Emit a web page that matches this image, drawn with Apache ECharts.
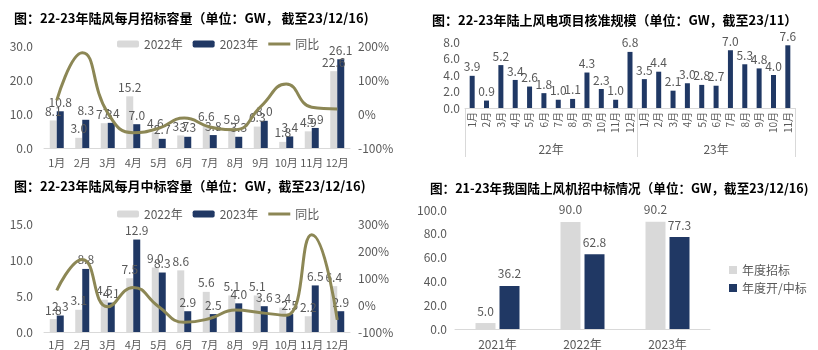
<!DOCTYPE html>
<html><head><meta charset="utf-8">
<script src="https://cdn.jsdelivr.net/npm/echarts@6/dist/echarts.min.js"></script>
<style>html,body{margin:0;padding:0;background:#fff}#c{width:818px;height:350px}</style>
</head><body><div id="c"></div>
<script>
// Panel 1: monthly tender capacity
var months = ['1月','2月','3月','4月','5月','6月','7月','8月','9月','10月','11月','12月'];
var tender2022 = [8.1,3.0,7.3,15.2,4.6,3.7,6.6,5.9,6.3,1.8,4.9,22.6];
var tender2023 = [10.8,8.3,7.4,7.0,2.7,3.3,3.8,3.3,8.0,3.4,5.9,26.1];
var tenderYoY = [40,180,3,-55,-42,-12,-38,-46,22,88,20,15];
// Panel 2: approvals
var approvalMonths = ['1月','2月','3月','4月','5月','6月','7月','8月','9月','10月','11月','12月','1月','2月','3月','4月','5月','6月','7月','8月','9月','10月','11月'];
var approvalGroups = ['22年','23年'];
var approvalGroupCounts = [12,11];
var approvalValues = [3.9,0.9,5.2,3.4,2.6,1.8,1.0,1.1,4.3,2.3,1.0,6.8,3.5,4.4,2.1,3.0,2.8,2.7,7.0,5.3,4.8,4.0,7.6];
// Panel 3: monthly winning-bid capacity
var win2022 = [1.8,3.1,4.5,7.5,9.0,8.6,5.6,5.1,5.1,3.4,2.2,6.4];
var win2023 = [2.3,8.8,4.1,12.9,8.3,2.9,2.5,4.0,3.6,2.5,6.5,2.9];
var winYoY = [55,170,-6,66,-6,-64,-50,-18,-28,-38,262,-55];
// Panel 4: annual
var years = ['2021年','2022年','2023年'];
var annualTender = [5.0,90.0,90.2];
var annualWin = [36.2,62.8,77.3];

var GRAY = '#d9d9d9', NAVY = '#203864', OLIVE = '#8c8755', TXT = '#595959';
var FF = '"Noto Sans CJK SC", "Noto Sans", sans-serif';

// group labels / boundaries for panel 2's two-level axis
var groupLabels = [];
var groupLabelIdx = {};
var groupBoundaries = {};
(function(){
  var start = 0;
  for (var g = 0; g < approvalGroups.length; g++) {
    var c = approvalGroupCounts[g];
    groupBoundaries[start] = true;
    groupLabelIdx[start + Math.floor(c / 2)] = {name: approvalGroups[g], even: c % 2 === 0};
    start += c;
  }
  for (var i = 0; i < approvalMonths.length; i++) groupLabels.push(String(i));
})();

var lbl = {show: true, position: 'top', distance: 3, color: TXT, fontSize: 12, fontFamily: FF, formatter: function(p){return p.value.toFixed(1);}};
var axLbl = {color: TXT, fontSize: 12, fontFamily: FF};
var lineIcon = 'path://M0 0H22V3H0Z';
var legText = {color: TXT, fontSize: 12, fontFamily: FF};
var titleStyle = {fontSize: 13, fontWeight: 'bold', color: '#000', fontFamily: FF};

var chart = echarts.init(document.getElementById('c'));
chart.setOption({
  animation: false,
  textStyle: {fontFamily: FF},
  title: [
    {text: '图：22-23年陆风每月招标容量（单位：GW， 截至23/12/16)', left: 9, top: 7, textStyle: titleStyle},
    {text: '图：22-23年陆上风电项目核准规模（单位：GW，截至23/11）', left: 427, top: 9, textStyle: titleStyle},
    {text: '图：22-23年陆风每月中标容量（单位：GW，截至23/12/16)', left: 9, top: 175, textStyle: titleStyle},
    {text: '图：21-23年我国陆上风机招中标情况（单位：GW，截至23/12/16)', left: 425, top: 177, textStyle: Object.assign({}, titleStyle, {fontSize: 12.6})}
  ],
  legend: [
    {left: 112, top: 33, itemWidth: 22, itemHeight: 7, itemGap: 10, textStyle: legText, data: ['2022年','2023年',{name: '同比', icon: lineIcon}]},
    {left: 112, top: 203, itemWidth: 22, itemHeight: 7, itemGap: 10, textStyle: legText, data: ['2022年','2023年',{name: '同比', icon: lineIcon}]},
    {left: 724, top: 259, orient: 'vertical', icon: 'rect', itemWidth: 8, itemHeight: 8, itemGap: 6, textStyle: legText, data: ['年度招标','年度开/中标']}
  ],
  grid: [
    {left: 44, top: 46, width: 306, height: 102},
    {left: 465, top: 42, width: 330, height: 66},
    {left: 44, top: 224.5, width: 306, height: 108.5},
    {left: 455, top: 210, width: 255, height: 120}
  ],
  xAxis: [
    {type: 'category', gridIndex: 0, data: months, axisLine: {lineStyle: {color: GRAY}}, axisTick: {show: false}, axisLabel: Object.assign({margin: 9, interval: 0}, axLbl, {fontSize: 11})},
    {type: 'category', gridIndex: 1, data: approvalMonths, axisLine: {lineStyle: {color: GRAY}},
      axisTick: {show: true, length: 49, interval: function(i){return !!groupBoundaries[i];}, lineStyle: {color: GRAY}},
      axisLabel: {rotate: 90, margin: 4, color: TXT, fontSize: 10, fontFamily: FF, interval: 0}},
    {type: 'category', gridIndex: 1, data: groupLabels, position: 'bottom', axisLine: {show: false}, axisTick: {show: false},
      axisLabel: {margin: 35, color: TXT, fontSize: 12, fontFamily: FF,
        interval: function(i){return !!groupLabelIdx[i];},
        formatter: function(v, i){var g = groupLabelIdx[i]; if(!g) return ''; return g.even ? '{s|' + g.name + '}' : g.name;},
        rich: {s: {padding: [0, 14.4, 0, 0], color: TXT, fontSize: 12, fontFamily: FF}}}},
    {type: 'category', gridIndex: 2, data: months, axisLine: {lineStyle: {color: GRAY}}, axisTick: {show: false}, axisLabel: Object.assign({margin: 7, interval: 0}, axLbl, {fontSize: 11})},
    {type: 'category', gridIndex: 3, data: years, axisLine: {lineStyle: {color: GRAY}}, axisTick: {show: false}, axisLabel: Object.assign({margin: 9}, axLbl)}
  ],
  yAxis: [
    {type: 'value', gridIndex: 0, min: 0, max: 30, interval: 10, splitLine: {show: false}, axisLine: {show: false}, axisLabel: Object.assign({margin: 11, formatter: function(v){return v.toFixed(1);}}, axLbl)},
    {type: 'value', gridIndex: 0, position: 'right', min: -100, max: 200, interval: 100, splitLine: {show: false}, axisLine: {show: false}, axisLabel: Object.assign({margin: 8, formatter: '{value}%'}, axLbl)},
    {type: 'value', gridIndex: 1, min: 0, max: 8, interval: 2, splitLine: {show: false}, axisLine: {show: false}, axisLabel: Object.assign({margin: 5, formatter: function(v){return v.toFixed(1);}}, axLbl)},
    {type: 'value', gridIndex: 2, min: 0, max: 15, interval: 5, splitLine: {show: false}, axisLine: {show: false}, axisLabel: Object.assign({margin: 11, formatter: function(v){return v.toFixed(1);}}, axLbl)},
    {type: 'value', gridIndex: 2, position: 'right', min: -100, max: 300, interval: 100, splitLine: {show: false}, axisLine: {show: false}, axisLabel: Object.assign({margin: 8, formatter: '{value}%'}, axLbl)},
    {type: 'value', gridIndex: 3, min: 0, max: 100, interval: 20, splitLine: {show: false}, axisLine: {show: false}, axisLabel: Object.assign({margin: 8, formatter: function(v){return v.toFixed(1);}}, axLbl)}
  ],
  series: [
    {name: '2022年', type: 'bar', xAxisIndex: 0, yAxisIndex: 0, data: tender2022, barWidth: 7, barGap: '0%', itemStyle: {color: GRAY}, label: lbl},
    {name: '2023年', type: 'bar', xAxisIndex: 0, yAxisIndex: 0, data: tender2023, barWidth: 7, barGap: '0%', itemStyle: {color: NAVY}, label: lbl},
    {name: '同比', type: 'line', xAxisIndex: 0, yAxisIndex: 1, data: tenderYoY, smooth: 0.5, symbol: 'none', lineStyle: {color: OLIVE, width: 3}, itemStyle: {color: OLIVE}, z: 5},
    {name: '核准', type: 'bar', xAxisIndex: 1, yAxisIndex: 2, data: approvalValues, barWidth: 5, itemStyle: {color: NAVY}, label: lbl},
    {name: '2022年', type: 'bar', xAxisIndex: 3, yAxisIndex: 3, data: win2022, barWidth: 7, barGap: '0%', itemStyle: {color: GRAY}, label: lbl},
    {name: '2023年', type: 'bar', xAxisIndex: 3, yAxisIndex: 3, data: win2023, barWidth: 7, barGap: '0%', itemStyle: {color: NAVY}, label: lbl},
    {name: '同比', type: 'line', xAxisIndex: 3, yAxisIndex: 4, data: winYoY, smooth: 0.5, symbol: 'none', lineStyle: {color: OLIVE, width: 3}, itemStyle: {color: OLIVE}, z: 5},
    {name: '年度招标', type: 'bar', xAxisIndex: 4, yAxisIndex: 5, data: annualTender, barWidth: 20, barGap: '20%', itemStyle: {color: GRAY}, label: Object.assign({}, lbl, {distance: 6})},
    {name: '年度开/中标', type: 'bar', xAxisIndex: 4, yAxisIndex: 5, data: annualWin, barWidth: 20, barGap: '20%', itemStyle: {color: NAVY}, label: Object.assign({}, lbl, {distance: 6})}
  ]
});
</script>
</body></html>
